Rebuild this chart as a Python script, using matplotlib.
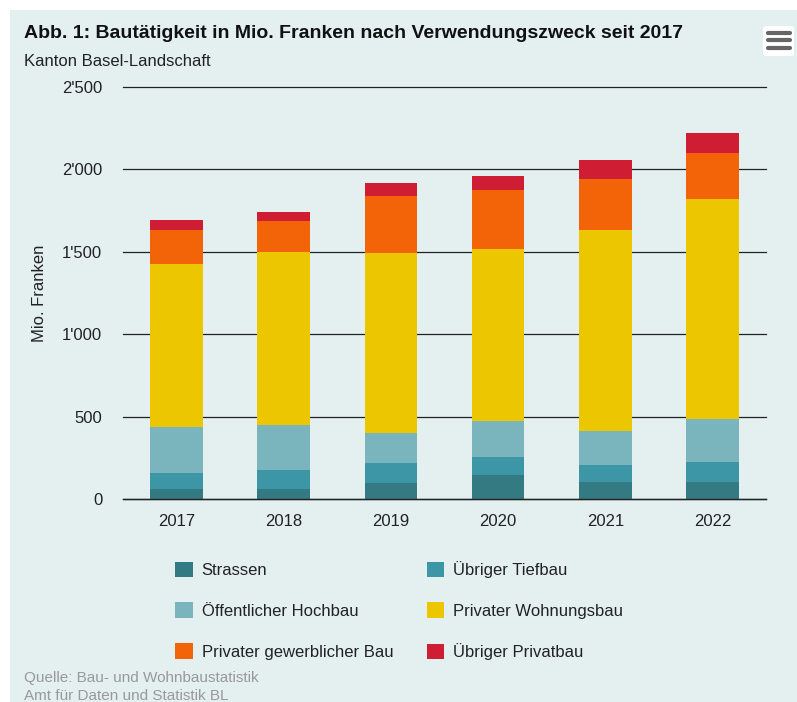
# Bautätigkeit Basel-Landschaft, stacked bars
import numpy as np
import matplotlib.pyplot as plt
from matplotlib.patches import Rectangle, FancyBboxPatch
from matplotlib.ticker import FuncFormatter

plt.rcParams['font.family'] = ['Liberation Sans', 'DejaVu Sans']

years = ['2017', '2018', '2019', '2020', '2021', '2022']

# Mio. Franken
strassen = [63, 63, 99, 144, 101, 101]
tiefbau = [96, 114, 121, 109, 103, 122]
hochbau = [278, 273, 181, 223, 211, 261]
wohnungsbau = [992, 1046, 1089, 1044, 1220, 1334]
gewerbe = [206, 193, 346, 358, 304, 281]
privatbau = [60, 55, 79, 79, 121, 119]

series = [
    ('Strassen', strassen, '#337a83'),
    ('Übriger Tiefbau', tiefbau, '#3d96a5'),
    ('Öffentlicher Hochbau', hochbau, '#7ab5be'),
    ('Privater Wohnungsbau', wohnungsbau, '#ecc700'),
    ('Privater gewerblicher Bau', gewerbe, '#f26407'),
    ('Übriger Privatbau', privatbau, '#cf1e33'),
]

W, H = 797, 702
fig = plt.figure(figsize=(W / 100, H / 100), dpi=100, facecolor='white')

# light panel behind everything
fig.patches.append(Rectangle((10 / W, 0), 1 - 10 / W, 1 - 10 / H, transform=fig.transFigure,
                             facecolor='#e4f0f0', edgecolor='none', zorder=-10))

ax = fig.add_axes([123 / W, 1 - 499 / H, (766 - 123) / W, (499 - 87) / H])
ax.set_facecolor('none')
ax.set_zorder(1)

x = np.arange(len(years))
bottom = np.zeros(len(years))
for name, vals, color in series:
    ax.bar(x, vals, width=0.49, bottom=bottom, color=color, label=name, zorder=3)
    bottom += np.array(vals)

ax.set_ylim(0, 2500)
ax.set_xlim(-0.5, len(years) - 0.5)
ax.set_yticks(range(0, 2501, 500))
ax.yaxis.set_major_formatter(FuncFormatter(lambda v, p: '{:,}'.format(int(v)).replace(',', "'")))
ax.set_xticks(x)
ax.set_xticklabels(years)
ax.grid(axis='y', color='#222222', linewidth=0.9, zorder=1)
for gl in ax.get_ygridlines():
    gl.set_clip_on(False)
ax.axhline(0, color='#222222', linewidth=1.0, zorder=4, clip_on=False)
for s in ax.spines.values():
    s.set_visible(False)
ax.tick_params(axis='both', length=0, labelsize=12, colors='#222222')
ax.tick_params(axis='y', pad=15)
ax.tick_params(axis='x', pad=11)
ax.set_ylabel('Mio. Franken', fontsize=12, color='#222222', labelpad=11)

# titles
fig.text(24 / W, 1 - 33 / H, 'Abb. 1: Bautätigkeit in Mio. Franken nach Verwendungszweck seit 2017',
         fontsize=14, fontweight='bold', color='#111111', va='center')
fig.text(24 / W, 1 - 61 / H, 'Kanton Basel-Landschaft', fontsize=12, color='#222222', va='center')

# legend, two columns filled row by row
handles, labels = ax.get_legend_handles_labels()
order = [0, 2, 4, 1, 3, 5]
fig.legend([handles[i] for i in order], [labels[i] for i in order], ncol=2, loc='upper left',
           bbox_to_anchor=(160 / W, 1 - 546 / H), frameon=False, fontsize=12, handlelength=1.05,
           handleheight=1.05, handletextpad=0.55, columnspacing=2.0, labelspacing=1.47,
           labelcolor='#222222')

# source
fig.text(24 / W, 1 - 678 / H, 'Quelle: Bau- und Wohnbaustatistik', fontsize=11, color='#999999', va='center')
fig.text(24 / W, 1 - 696 / H, 'Amt für Daten und Statistik BL', fontsize=11, color='#999999', va='center')

# menu button
fig.patches.append(FancyBboxPatch((763 / W, 1 - 56 / H), 31 / W, 30 / H, transform=fig.transFigure,
                                  boxstyle='round,pad=0,rounding_size=0.004', facecolor='white',
                                  edgecolor='none', zorder=2))
for yy in (33, 40, 48):
    fig.add_artist(plt.Line2D([768 / W, 790 / W], [1 - yy / H] * 2, transform=fig.transFigure,
                              color='#666666', linewidth=3, solid_capstyle='round', zorder=3))

fig.savefig('out.png', dpi=100, facecolor='white')
